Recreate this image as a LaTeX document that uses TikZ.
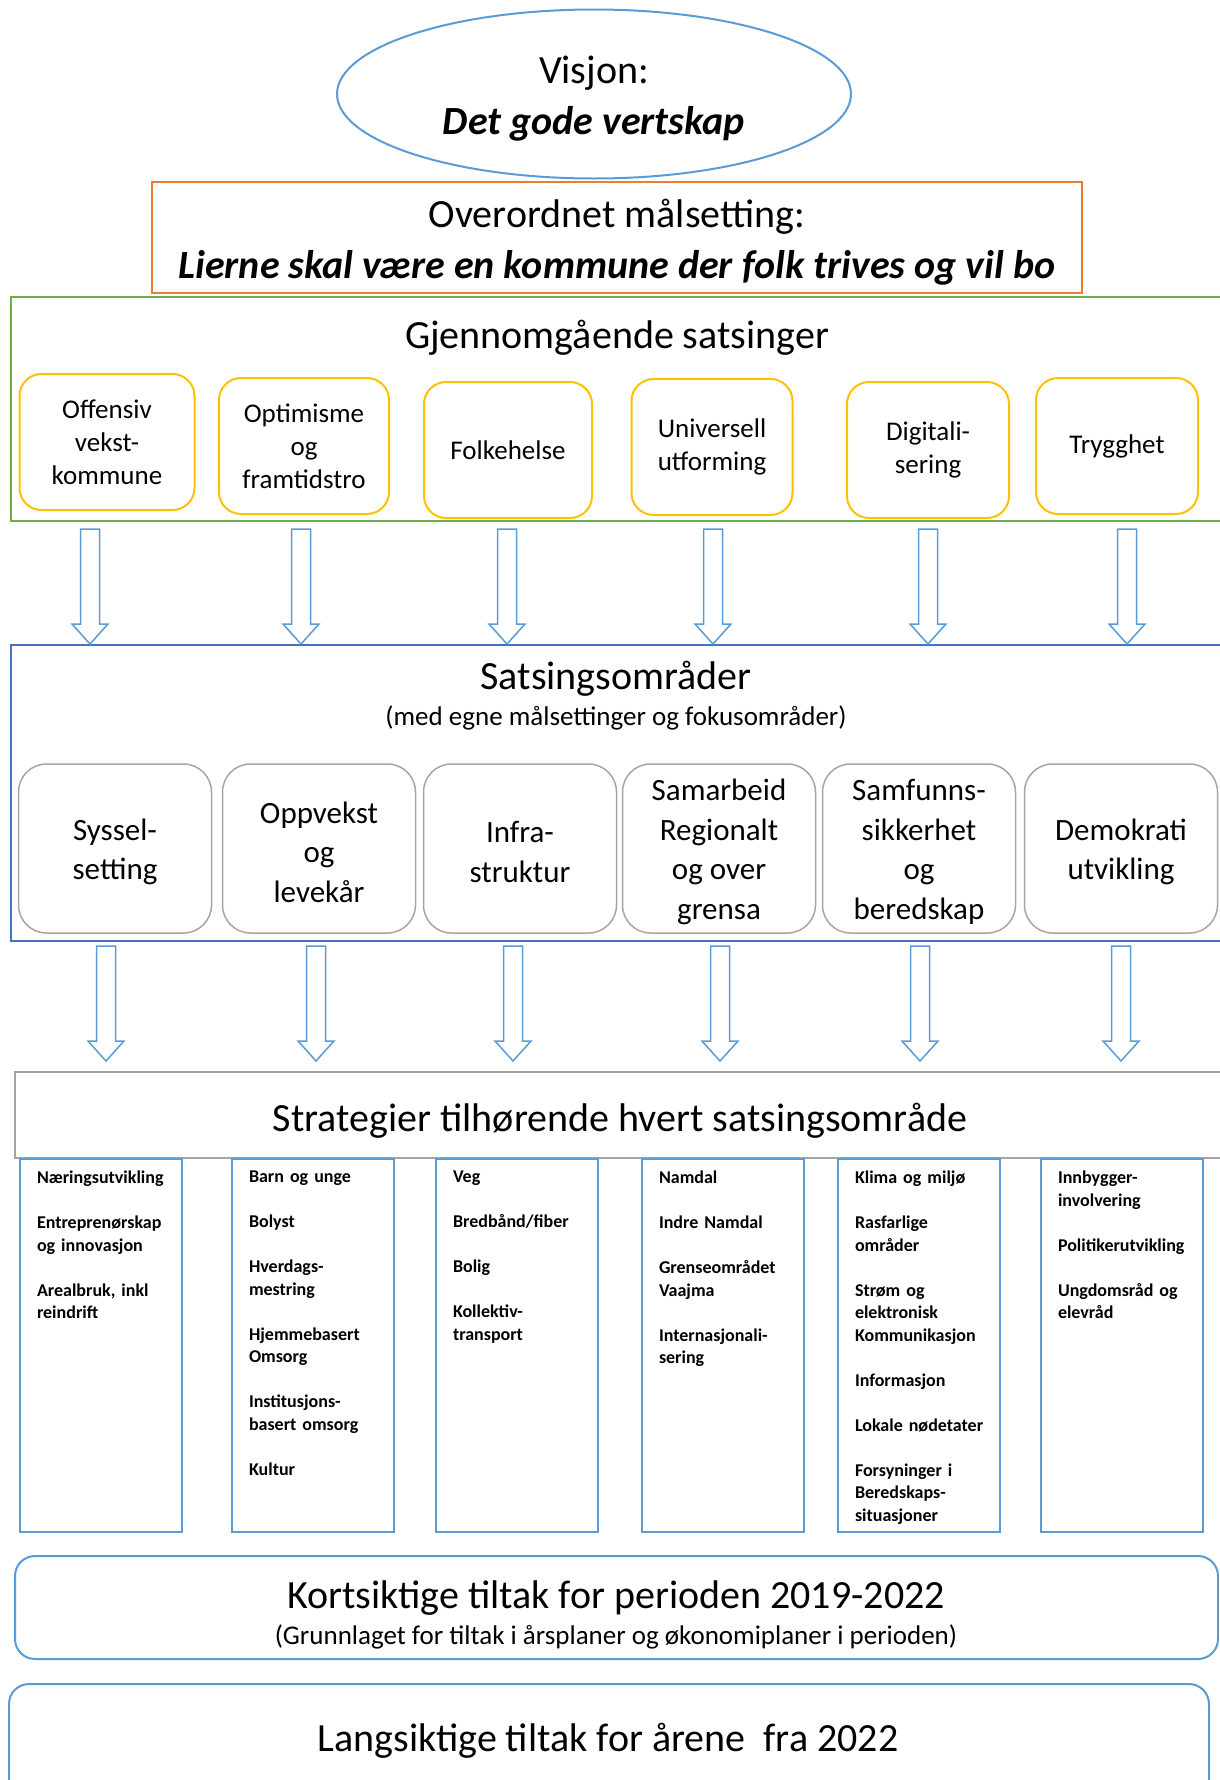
\documentclass[tikz,border=0pt]{standalone}
\usepackage{fontspec}
\setmainfont{Carlito}
\usetikzlibrary{shapes.geometric,calc}
\definecolor{lineblue}{HTML}{5B9BD5}
\definecolor{darkblue}{HTML}{4472C4}
\definecolor{orangeline}{HTML}{ED7D31}
\definecolor{greenline}{HTML}{70AD47}
\definecolor{goldline}{HTML}{FFC000}
\definecolor{greyline}{HTML}{A5A5A5}
\begin{document}
\begin{tikzpicture}[x=1pt, y=-1pt,
		every node/.style={inner sep=0pt, outer sep=0pt},
		big/.style={font=\fontsize{40}{51}\selectfont, align=center},
		small/.style={font=\fontsize{27}{33}\selectfont, align=center},
		goldbox/.style={draw=goldline, line width=2pt, rounded corners=22pt, minimum height=136pt, font=\fontsize{27}{33}\selectfont, align=center},
		greybox/.style={draw=greyline, line width=1.5pt, rounded corners=28pt, minimum width=193pt, minimum height=169pt},
		areatext/.style={font=\fontsize{31}{39.5}\selectfont, align=center},
		column/.style={draw=lineblue, line width=2pt, minimum width=162pt, minimum height=373pt, anchor=north west},
		listtext/.style={anchor=north west, font=\bfseries\fontsize{18}{22.5}\selectfont, align=left, text width=150pt},
		hollow/.style={draw=lineblue, fill=white, line width=1.5pt, to path={
			let \p1=(\tikztostart), \p2=(\tikztotarget) in
			(\x1-9.5pt,\y1) -- (\x1+9.5pt,\y1) -- (\x1+9.5pt,\y2+20pt) -- (\x1+18pt,\y2+20pt)
			-- (\x1,\y2) -- (\x1-18pt,\y2+20pt) -- (\x1-9.5pt,\y2+20pt) -- cycle}}
	]
		\useasboundingbox (0,0) rectangle (1220,1780);
		% vision and main goal
		\node[ellipse, draw=lineblue, line width=2pt, minimum width=514pt, minimum height=169pt] (visjon) at (594,94) {};
		\node[big] (visjontext) at (594,99) {Visjon:\\\textbf{\textit{Det gode vertskap}}};
		\node[draw=orangeline, line width=2pt, minimum width=930pt, minimum height=111pt] (maal) at (617,237.5) {};
		\node[big] (maaltext) at (617,242) {Overordnet målsetting:\\\textbf{\textit{Lierne skal være en kommune der folk trives og vil bo}}};
		% cross-cutting priorities
		\node[draw=greenline, line width=2pt, minimum width=1219pt, minimum height=224pt, anchor=north west] (gjen) at (11,297) {};
		\node[big] (gjentitle) at (617,338) {Gjennomgående satsinger};
		\foreach \cx/\w/\cy/\txt [count=\i] in {107/175/442/{Offensiv\\vekst-\\kommune}, 304/170/446/{Optimisme\\og\\framtidstro}, 508/168/450/{Folkehelse}, 712/161/447/{Universell\\utforming}, 928/162/450/{Digitali-\\sering}, 1117/162/446/{Trygghet}}
			\node[goldbox, minimum width=\w] (sat\i) at (\cx,\cy) {\txt};
		% priority areas
		\node[draw=darkblue, line width=2pt, minimum width=1219pt, minimum height=296pt, anchor=north west] (omr) at (11,645) {};
		\node[big] (omrtitle) at (616,679) {Satsingsområder};
		\node[small] (omrsub) at (616,718) {(med egne målsettinger og fokusområder)};
		\foreach \cx/\txt [count=\i] in {115/{Syssel-\\setting}, 319/{Oppvekst\\og\\levekår}, 520/{Infra-\\struktur}, 719/{Samarbeid\\Regionalt\\og over\\grensa}, 919/{Samfunns-\\sikkerhet\\og\\beredskap}, 1121/{Demokrati\\utvikling}} {
			\node[greybox] (area\i) at (\cx,848.5) {};
			\node[areatext] (areatext\i) at (\cx,852) {\txt};
		}
		% arrows
		\foreach \ax [count=\i] in {90,301,507,713,928,1127} {
			\coordinate (ua\i) at (\ax,529);
			\coordinate (ub\i) at (\ax,644);
			\draw[hollow] (ua\i) to (ub\i);
		}
		\foreach \ax [count=\i] in {106,316,513,720,920,1121} {
			\coordinate (la\i) at (\ax,946);
			\coordinate (lb\i) at (\ax,1061);
			\draw[hollow] (la\i) to (lb\i);
		}
		% strategies
		\node[draw=greyline, line width=2pt, minimum width=1230pt, minimum height=86pt, anchor=north west] (strat) at (15,1072) {};
		\node[big] (strattitle) at (620,1121) {Strategier tilhørende hvert satsingsområde};
		\foreach \lx [count=\i] in {20,232,436,642,838,1041}
			\node[column] (col\i) at (\lx,1159) {};
		\node[listtext] (list1) at ($(col1.north west)+(17,12)$) {Næringsutvikling\\[22.5pt]Entreprenørskap\\og innovasjon\\[22.5pt]Arealbruk, inkl\\reindrift};
		\node[listtext] (list2) at ($(col2.north west)+(17,12)$) {Barn og unge\\[22.5pt]Bolyst\\[22.5pt]Hverdags-\\mestring\\[22.5pt]Hjemmebasert\\Omsorg\\[22.5pt]Institusjons-\\basert omsorg\\[22.5pt]Kultur};
		\node[listtext] (list3) at ($(col3.north west)+(17,12)$) {Veg\\[22.5pt]Bredbånd/fiber\\[22.5pt]Bolig\\[22.5pt]Kollektiv-\\transport};
		\node[listtext] (list4) at ($(col4.north west)+(17,12)$) {Namdal\\[22.5pt]Indre Namdal\\[22.5pt]Grenseområdet\\Vaajma\\[22.5pt]Internasjonali-\\sering};
		\node[listtext] (list5) at ($(col5.north west)+(17,12)$) {Klima og miljø\\[22.5pt]Rasfarlige\\områder\\[22.5pt]Strøm og\\elektronisk\\Kommunikasjon\\[22.5pt]Informasjon\\[22.5pt]Lokale nødetater\\[22.5pt]Forsyninger i\\Beredskaps-\\situasjoner};
		\node[listtext] (list6) at ($(col6.north west)+(17,12)$) {Innbygger-\\involvering\\[22.5pt]Politikerutvikling\\[22.5pt]Ungdomsråd og\\elevråd};
		% measures
		\node[draw=lineblue, line width=2pt, rounded corners=20pt, minimum width=1203pt, minimum height=103pt] (kort) at (616.5,1607.5) {};
		\node[big] (korttitle) at (616,1598) {Kortsiktige tiltak for perioden 2019-2022};
		\node[small] (kortsub) at (616,1637) {(Grunnlaget for tiltak i årsplaner og økonomiplaner i perioden)};
		\node[draw=lineblue, line width=2pt, rounded corners=20pt, minimum width=1200pt, minimum height=200pt, anchor=north west] (lang) at (9,1684) {};
		\node[big] (langtitle) at (608,1741) {Langsiktige tiltak for årene\ \ fra 2022};
	\end{tikzpicture}
\end{document}
